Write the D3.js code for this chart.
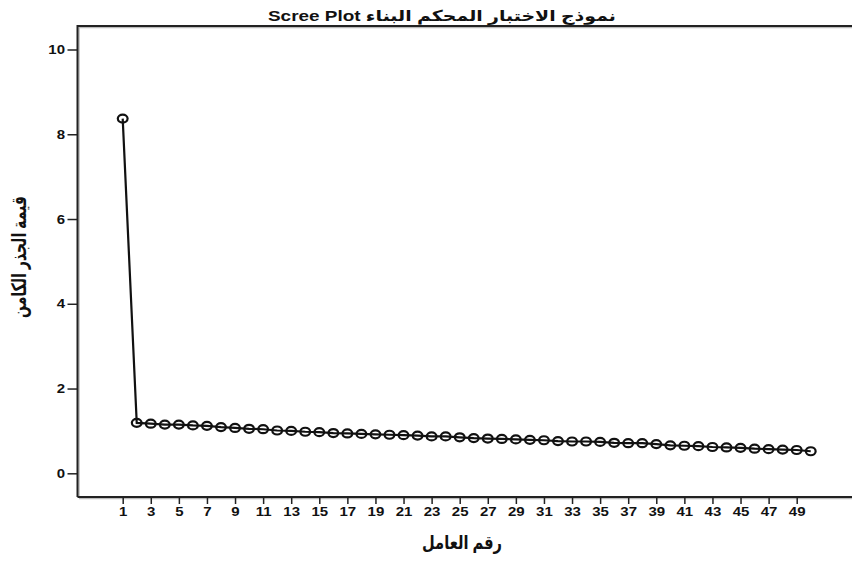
<!DOCTYPE html>
<html>
<head>
<meta charset="utf-8">
<script src="https://cdn.jsdelivr.net/npm/d3@7"></script>
<style>
  body { margin: 0; background: #fff; }
  svg { display: block; }
</style>
</head>
<body>
<svg id="chart" width="852" height="561"></svg>
<script>
const titleText = "نموذج الاختبار المحكم البناء Scree Plot";
const xTitle = "رقم العامل";
const yTitle = "قيمة الجذر الكامن";
const factors = d3.range(1, 51);
const eigenvalues = [
  8.37, 1.19, 1.17, 1.15, 1.15, 1.13, 1.12, 1.09, 1.07, 1.05,
  1.04, 1.01, 1.00, 0.98, 0.97, 0.95, 0.94, 0.93, 0.92, 0.91,
  0.90, 0.89, 0.87, 0.87, 0.85, 0.83, 0.82, 0.81, 0.80, 0.79,
  0.78, 0.76, 0.75, 0.75, 0.74, 0.72, 0.71, 0.71, 0.69, 0.66,
  0.65, 0.64, 0.62, 0.61, 0.60, 0.58, 0.57, 0.56, 0.55, 0.52
];
const xTicks = d3.range(1, 50, 2);
const yTicks = [0, 2, 4, 6, 8, 10];

const svg = d3.select("#chart");
const font = "'Liberation Sans', Arial, 'DejaVu Sans', sans-serif";
const stretch = 1.2;

const frame = { left: 77.5, top: 26, right: 852, bottom: 497 };
const x = d3.scaleLinear().domain([1, 49]).range([122.7, 796.7]);
const y = d3.scaleLinear().domain([0, 10]).range([473.3, 49.5]);

// frame shadows
svg.append("path")
  .attr("d", `M${frame.left + 1.5},${frame.bottom} L${frame.left + 1.5},${frame.top + 1.5} L${frame.right},${frame.top + 1.5}`)
  .attr("fill", "none").attr("stroke", "#bbb").attr("stroke-width", 1.5);
svg.append("path")
  .attr("d", `M${frame.left + 1.5},${frame.bottom + 1.5} L${frame.right},${frame.bottom + 1.5}`)
  .attr("fill", "none").attr("stroke", "#bbb").attr("stroke-width", 1.5);
// frame
svg.append("path")
  .attr("d", `M${frame.left},${frame.bottom} L${frame.left},${frame.top} L${frame.right},${frame.top}`)
  .attr("fill", "none").attr("stroke", "#222").attr("stroke-width", 2);
svg.append("path")
  .attr("d", `M${frame.left},${frame.bottom} L${frame.right},${frame.bottom}`)
  .attr("fill", "none").attr("stroke", "#222").attr("stroke-width", 2);

// y axis
const yAxis = d3.axisLeft(y).tickValues(yTicks).tickSize(10).tickPadding(2).tickFormat(d3.format("d"));
const gy = svg.append("g").attr("transform", `translate(${frame.left},0)`).call(yAxis);
gy.select(".domain").remove();
gy.selectAll(".tick line").attr("stroke", "#222").attr("stroke-width", 1.5);
gy.selectAll(".tick text").attr("font-family", font).attr("font-weight", "bold")
  .attr("font-size", 12.5).attr("fill", "#111")
  .attr("x", -12.5 / stretch).attr("transform", `scale(${stretch},1)`);

// x axis
const xAxis = d3.axisBottom(x).tickValues(xTicks).tickSize(7).tickPadding(3).tickFormat(d3.format("d"));
const gx = svg.append("g").attr("transform", `translate(0,${frame.bottom})`).call(xAxis);
gx.select(".domain").remove();
gx.selectAll(".tick line").attr("stroke", "#222").attr("stroke-width", 1.5);
gx.selectAll(".tick text").attr("font-family", font).attr("font-weight", "bold")
  .attr("font-size", 12.5).attr("fill", "#111")
  .attr("transform", `scale(${stretch},1)`);

// line
const data = factors.map((f, i) => ({ f, v: eigenvalues[i] }));
svg.append("path").datum(data)
  .attr("d", d3.line().x(d => x(d.f)).y(d => y(d.v)))
  .attr("fill", "none").attr("stroke", "#111").attr("stroke-width", 2.2);

// markers
svg.append("g").selectAll("ellipse").data(data).join("ellipse")
  .attr("cx", d => x(d.f)).attr("cy", d => y(d.v)).attr("rx", 4.9).attr("ry", 4.0)
  .attr("fill", "none").attr("stroke", "#111").attr("stroke-width", 2.2);

// title
svg.append("text").attr("x", 442).attr("y", 21)
  .attr("text-anchor", "middle").attr("direction", "rtl")
  .attr("textLength", 348).attr("lengthAdjust", "spacingAndGlyphs")
  .attr("font-family", font).attr("font-weight", "bold").attr("font-size", 15)
  .attr("fill", "#111").text(titleText);

// axis titles
svg.append("text").attr("x", 462).attr("y", 549)
  .attr("text-anchor", "middle").attr("direction", "rtl")
  .attr("textLength", 80).attr("lengthAdjust", "spacingAndGlyphs")
  .attr("font-family", font).attr("font-weight", "bold").attr("font-size", 19)
  .attr("fill", "#111").text(xTitle);

svg.append("text").attr("transform", "translate(26,257) rotate(-90)")
  .attr("text-anchor", "middle").attr("direction", "rtl")
  .attr("textLength", 122).attr("lengthAdjust", "spacingAndGlyphs")
  .attr("font-family", font).attr("font-weight", "bold").attr("font-size", 20)
  .attr("fill", "#111").text(yTitle);
</script>
</body>
</html>
